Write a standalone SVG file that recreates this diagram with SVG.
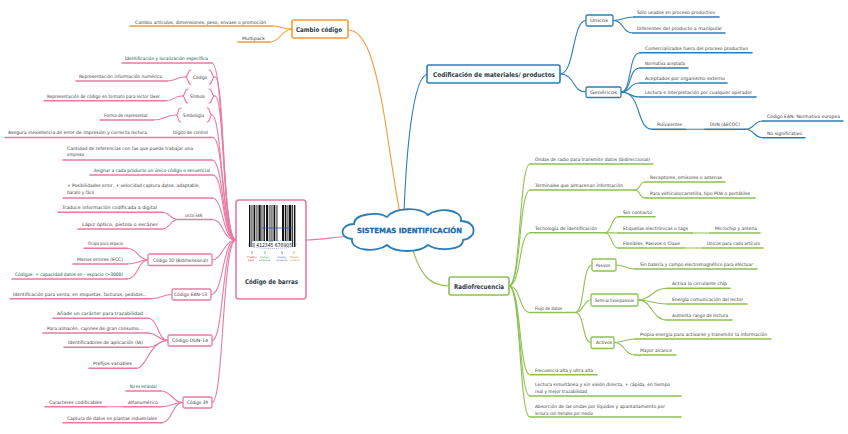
<svg xmlns="http://www.w3.org/2000/svg" width="848" height="434" viewBox="0 0 848 434">
<style>
.t{font-family:"DejaVu Sans","Liberation Sans",sans-serif;font-size:4.6px;fill:#3b3b3b}
.b{font-weight:bold;font-size:6.5px;fill:#2d3a44}
.c{stroke-width:1.1;fill:none;stroke-linecap:round}
.u{stroke-width:1.6;fill:none;stroke-linecap:round}
.o{stroke:#F29B38}.bl{stroke:#2C7DB5}.g{stroke:#8DC151}.p{stroke:#E77BA2}
.box{fill:#fff;stroke-width:1.6}
.mini{font-family:"DejaVu Sans","Liberation Sans",sans-serif;font-size:2.3px}
</style>
<rect width="848" height="434" fill="#fff"/>
<g id="connectors">
<path class="c o" d="M348,30 C365,30 375,60 385,120 C392,165 396,195 400,213"/>
<path class="c bl" d="M404,213 C406,160 412,75 428,74"/>
<path class="c g" d="M412,247 C420,275 430,286 449,286"/>
<path class="c p" d="M306,240 C320,240 335,237 350,236"/>
<path class="c o" d="M292,29 C282,29 281,26 272,26"/><path class="u o" d="M272,26 H130"/>
<path class="c o" d="M292,29 C282,29 280,42 270,42"/><path class="u o" d="M270,42 H238"/>
<path class="c bl" d="M560,74 C575,74 572,20.5 586,20.5"/>
<path class="c bl" d="M560,74 C575,74 572,92 586,92"/>
<path class="c bl" d="M613,20.5 C624,20.5 622,17 634,17"/><path class="u bl" d="M634,17 H719"/>
<path class="c bl" d="M613,20.5 C624,20.5 622,33 633,33"/><path class="u bl" d="M633,33 H725"/>
<path class="c bl" d="M621,92 C632,92 628,52.7 640,52.7"/><path class="u bl" d="M640,52.7 H752"/>
<path class="c bl" d="M621,92 C632,92 628,68 640,68"/><path class="u bl" d="M640,68 H688"/>
<path class="c bl" d="M621,92 C632,92 628,83 640,83"/><path class="u bl" d="M640,83 H727"/>
<path class="c bl" d="M621,92 C632,92 628,97 640,97"/><path class="u bl" d="M640,97 H756"/>
<path class="c bl" d="M621,92 C642,92 636,129.3 652,129.3"/><path class="u bl" d="M652,129.3 H685"/>
<path class="c bl" d="M685,129.3 H705"/><path class="u bl" d="M705,129.3 H745"/>
<path class="c bl" d="M745,129.3 C755,129.3 753,121 763,121"/><path class="u bl" d="M763,121 H843"/>
<path class="c bl" d="M745,129.3 C755,129.3 753,137.7 763,137.7"/><path class="u bl" d="M763,137.7 H805"/>
<path class="c g" d="M509,286 C521,286 519,164 530,164"/><path class="u g" d="M530,164 H653"/>
<path class="c g" d="M509,286 C521,286 519,190 530,190"/><path class="u g" d="M530,190 H634"/>
<path class="c g" d="M634,190 C641,190 639,182 645,182"/><path class="u g" d="M645,182 H725"/>
<path class="c g" d="M634,190 C641,190 639,198 645,198"/><path class="u g" d="M645,198 H755"/>
<path class="c g" d="M509,286 C521,286 519,232.7 530,232.7"/><path class="u g" d="M530,232.7 H605"/>
<path class="c g" d="M605,232.7 C612,232.7 611,216.7 618,216.7"/><path class="u g" d="M618,216.7 H655"/>
<path class="c g" d="M605,232.7 C612,232.7 611,233 618,233"/><path class="u g" d="M618,233 H692"/>
<path class="c g" d="M692,233 H710"/><path class="u g" d="M710,233 H760"/>
<path class="c g" d="M605,232.7 C612,232.7 611,248 618,248"/><path class="u g" d="M618,248 H684"/>
<path class="c g" d="M684,248 H703"/><path class="u g" d="M703,248 H763"/>
<path class="c g" d="M509,286 C521,286 519,312.5 530,312.5"/><path class="u g" d="M530,312.5 H575"/>
<path class="c g" d="M575,312.5 C585,312.5 582,265 592,265"/>
<path class="c g" d="M575,312.5 C584,312.5 583,300 591,300"/>
<path class="c g" d="M575,312.5 C585,312.5 582,342.5 591,342.5"/>
<path class="c g" d="M616,265 C626,265 625,269 635,269"/><path class="u g" d="M635,269 H757"/>
<path class="c g" d="M638,300 C652,300 652,288.3 667,288.3"/><path class="u g" d="M667,288.3 H730"/>
<path class="c g" d="M638,300 C652,300 652,304 667,304"/><path class="u g" d="M667,304 H747"/>
<path class="c g" d="M638,300 C652,300 652,320 667,320"/><path class="u g" d="M667,320 H732"/>
<path class="c g" d="M614,342.5 C625,342.5 624,339 635,339"/><path class="u g" d="M635,339 H771"/>
<path class="c g" d="M614,342.5 C625,342.5 624,355 635,355"/><path class="u g" d="M635,355 H676"/>
<path class="c g" d="M509,286 C521,286 519,374.7 530,374.7"/><path class="u g" d="M530,374.7 H597"/>
<path class="c g" d="M509,286 C521,286 519,396 530,396"/><path class="u g" d="M530,396 H681"/>
<path class="c g" d="M509,286 C521,286 519,417 530,417"/><path class="u g" d="M530,417 H681"/>
<path class="c p" d="M236,240 C222,240 224,63 212,63"/><path class="u p" d="M212,63 H122"/>
<path class="c p" d="M236,240 C222,240 225,77 215,77"/>
<path class="c p" d="M185,77 C176,77 176,81 167,81"/><path class="u p" d="M167,81 H76"/>
<path class="c p" d="M236,240 C222,240 225,96 215,96"/>
<path class="c p" d="M182,96 C174,96 174,100.7 166,100.7"/><path class="u p" d="M166,100.7 H44"/>
<path class="c p" d="M236,240 C222,240 222,115 212,115"/>
<path class="c p" d="M176,115 C166,115 164,120 153,120"/><path class="u p" d="M153,120 H100"/>
<path class="c p" d="M236,240 C222,240 224,137.5 213,137.5"/><path class="u p" d="M213,137.5 H5"/>
<path class="c p" d="M236,240 C222,240 224,160 212,160"/><path class="u p" d="M212,160 H63"/>
<path class="c p" d="M236,240 C222,240 224,175 213,175"/><path class="u p" d="M213,175 H90"/>
<path class="c p" d="M236,240 C222,240 224,198 212,198"/><path class="u p" d="M212,198 H63"/>
<path class="c p" d="M236,240 C222,240 224,219.5 212,219.5"/><path class="u p" d="M212,219.5 H178"/>
<path class="c p" d="M178,219.5 C170,219.5 170,212.3 162,212.3"/><path class="u p" d="M162,212.3 H58"/>
<path class="c p" d="M178,219.5 C170,219.5 170,229 162,229"/><path class="u p" d="M162,229 H78"/>
<path class="c p" d="M236,240 C224,240 222,260 212,260"/>
<path class="c p" d="M148,260 C138,260 138,248.3 127,248.3"/><path class="u p" d="M127,248.3 H84"/>
<path class="c p" d="M148,260 C138,260 138,264 127,264"/><path class="u p" d="M127,264 H73"/>
<path class="c p" d="M148,260 C138,260 138,279 127,279"/><path class="u p" d="M127,279 H12"/>
<path class="c p" d="M236,240 C222,240 224,294.5 211,294.5"/>
<path class="c p" d="M172,294.5 C162,294.5 162,298.7 152,298.7"/><path class="u p" d="M152,298.7 H10"/>
<path class="c p" d="M236,240 C222,240 224,340.5 212,340.5"/>
<path class="c p" d="M168,340.5 C158,340.5 158,318.3 148,318.3"/><path class="u p" d="M148,318.3 H53"/>
<path class="c p" d="M168,340.5 C158,340.5 158,333 148,333"/><path class="u p" d="M148,333 H43"/>
<path class="c p" d="M168,340.5 C158,340.5 158,347.3 148,347.3"/><path class="u p" d="M148,347.3 H64"/>
<path class="c p" d="M168,340.5 C150,340.5 146,368.3 137,368.3"/><path class="u p" d="M137,368.3 H89"/>
<path class="c p" d="M236,240 C222,240 224,402.5 212,402.5"/>
<path class="c p" d="M183,402.5 C172,402.5 172,391 161,391"/><path class="u p" d="M161,391 H126"/>
<path class="c p" d="M183,402.5 C172,402.5 172,406.7 162,406.7"/><path class="u p" d="M162,406.7 H124"/>
<path class="c p" d="M124,406.7 H106"/><path class="u p" d="M106,406.7 H45"/>
<path class="c p" d="M183,402.5 C172,402.5 172,422.7 162,422.7"/><path class="u p" d="M162,422.7 H63"/>
</g>
<g id="center">
<path d="M352,239 C338,238 340,224 354,224 C354,214 378,211 387,217 C395,207 420,207 428,215 C437,207 463,209 461,221 C477,221 478,238 463,240 C463,251 437,251 428,245 C419,253 395,253 387,245 C377,253 350,251 352,239 Z" fill="#fff" stroke="#2C7DB5" stroke-width="1.8"/>
<text class="t" x="357" y="233" textLength="105" lengthAdjust="spacingAndGlyphs" style="font-weight:bold;font-size:7px;fill:#1f6fb8;stroke:#0d4a86;stroke-width:0.25">SISTEMAS IDENTIFICACIÓN</text>
</g>
<g id="cambio-codigo">
<rect class="box o" x="292" y="20" width="56" height="18" rx="2"/>
<text class="t b" x="296" y="31.5" textLength="46" lengthAdjust="spacingAndGlyphs">Cambio código</text>
</g>
<g id="cambio-hijos">
<text class="t" x="135" y="23.5" textLength="131" lengthAdjust="spacingAndGlyphs">Cambio artículos, dimensiones, peso, envase o promoción</text>
<text class="t" x="242" y="39.5" textLength="23" lengthAdjust="spacingAndGlyphs">Multipack</text>
</g>
<g id="codificacion">
<rect class="box bl" x="427" y="65" width="133" height="18" rx="2"/>
<text class="t b" x="433" y="76.5" textLength="122" lengthAdjust="spacingAndGlyphs">Codificación de materiales/ productos</text>
</g>
<g id="unicos">
<rect class="box bl" x="586" y="15" width="27" height="11" rx="1.5" style="stroke-width:1.3"/>
<text class="t" x="590" y="22.2" textLength="18" lengthAdjust="spacingAndGlyphs">Únicos</text>
</g>
<g id="genericos">
<rect class="box bl" x="586" y="87" width="35" height="10.5" rx="1.5" style="stroke-width:1.3"/>
<text class="t" x="590" y="94" textLength="27" lengthAdjust="spacingAndGlyphs">Genéricos</text>
</g>
<g id="codificacion-hijos">
<text class="t" x="637" y="14" textLength="78" lengthAdjust="spacingAndGlyphs">Sólo usados en proceso productivo</text>
<text class="t" x="637" y="30" textLength="85" lengthAdjust="spacingAndGlyphs">Diferentes del producto a manipular</text>
<text class="t" x="645" y="49.7" textLength="103" lengthAdjust="spacingAndGlyphs">Comercializados fuera del proceso productivo</text>
<text class="t" x="645" y="65" textLength="40" lengthAdjust="spacingAndGlyphs">Normativa aceptada</text>
<text class="t" x="645" y="80" textLength="80" lengthAdjust="spacingAndGlyphs">Aceptados por organismo externo</text>
<text class="t" x="645" y="94" textLength="107" lengthAdjust="spacingAndGlyphs">Lectura e interpretación por cualquier operador</text>
<text class="t" x="657" y="126" textLength="25" lengthAdjust="spacingAndGlyphs">Polivalentes</text>
<text class="t" x="710" y="126" textLength="30" lengthAdjust="spacingAndGlyphs">DUN (AECOC)</text>
<text class="t" x="767" y="118" textLength="73" lengthAdjust="spacingAndGlyphs">Código EAN: Normativa europea</text>
<text class="t" x="767" y="134.5" textLength="35" lengthAdjust="spacingAndGlyphs">No significativo</text>
</g>
<g id="radiofrecuencia">
<rect class="box g" x="449" y="277" width="60" height="18" rx="2"/>
<text class="t b" x="454" y="288.5" textLength="50" lengthAdjust="spacingAndGlyphs">Radiofrecuencia</text>
</g>
<g id="pasivos">
<rect class="box g" x="592" y="259" width="24" height="12" rx="1.5" style="stroke-width:1.3"/>
<text class="t" x="596" y="266.6" textLength="14" lengthAdjust="spacingAndGlyphs">Pasivos</text>
</g>
<g id="semiactivos">
<rect class="box g" x="591" y="294" width="47" height="12" rx="1.5" style="stroke-width:1.3"/>
<text class="t" x="595" y="301.6" textLength="39" lengthAdjust="spacingAndGlyphs">Semi-activos/pasivos</text>
</g>
<g id="activos">
<rect class="box g" x="591" y="337" width="23" height="11.5" rx="1.5" style="stroke-width:1.3"/>
<text class="t" x="596" y="344.3" textLength="16" lengthAdjust="spacingAndGlyphs">Activos</text>
</g>
<g id="radio-hijos">
<text class="t" x="535" y="161" textLength="115" lengthAdjust="spacingAndGlyphs">Ondas de radio para transmitir datos (bidireccional)</text>
<text class="t" x="535" y="187" textLength="88" lengthAdjust="spacingAndGlyphs">Terminales que almacenan información</text>
<text class="t" x="650" y="179" textLength="72" lengthAdjust="spacingAndGlyphs">Receptores, emisores o antenas</text>
<text class="t" x="650" y="195" textLength="100" lengthAdjust="spacingAndGlyphs">Para vehículo/carretilla, tipo PDA o portátiles</text>
<text class="t" x="535" y="229.5" textLength="62" lengthAdjust="spacingAndGlyphs">Tecnología de identificación</text>
<text class="t" x="623" y="213.5" textLength="29" lengthAdjust="spacingAndGlyphs">Sin contacto</text>
<text class="t" x="623" y="230" textLength="65" lengthAdjust="spacingAndGlyphs">Etiquetas electrónicas o tags</text>
<text class="t" x="715" y="230" textLength="42" lengthAdjust="spacingAndGlyphs">Microchip y antena</text>
<text class="t" x="623" y="245" textLength="57" lengthAdjust="spacingAndGlyphs">Flexibles, Pasivos o Clave</text>
<text class="t" x="707" y="245" textLength="53" lengthAdjust="spacingAndGlyphs">Únicos para cada artículo</text>
<text class="t" x="535" y="309.5" textLength="27" lengthAdjust="spacingAndGlyphs">Flujo de datos</text>
<text class="t" x="640" y="266" textLength="113" lengthAdjust="spacingAndGlyphs">Sin batería y campo electromagnético para efectuar</text>
<text class="t" x="672" y="285.3" textLength="55" lengthAdjust="spacingAndGlyphs">Activa la circulante chip</text>
<text class="t" x="672" y="301" textLength="71" lengthAdjust="spacingAndGlyphs">Energía comunicación del lector</text>
<text class="t" x="672" y="317" textLength="56" lengthAdjust="spacingAndGlyphs">Aumenta rango de lectura</text>
<text class="t" x="640" y="336" textLength="127" lengthAdjust="spacingAndGlyphs">Propia energía para activarse y transmitir la información</text>
<text class="t" x="640" y="352" textLength="32" lengthAdjust="spacingAndGlyphs">Mayor alcance</text>
<text class="t" x="535" y="371.5" textLength="58" lengthAdjust="spacingAndGlyphs">Frecuencia alta y ultra alta</text>
<text class="t" x="535" y="386" textLength="135" lengthAdjust="spacingAndGlyphs">Lectura simultánea y sin visión directa, + rápida, en tiempo</text>
<text class="t" x="535" y="392.5" textLength="52" lengthAdjust="spacingAndGlyphs">real y mejor trazabilidad</text>
<text class="t" x="535" y="408" textLength="130" lengthAdjust="spacingAndGlyphs">Absorción de las ondas por líquidos y apantallamiento por</text>
<text class="t" x="535" y="414.5" textLength="58" lengthAdjust="spacingAndGlyphs">lectura con metales por medio</text>
</g>
<g id="codigo-barras">
<rect class="box p" x="236" y="200" width="70" height="99" rx="3"/>
<g fill="#111">
<rect x="249" y="205" width="1.4" height="42"/><rect x="251.5" y="205" width="0.9" height="42"/>
<rect x="253.5" y="205" width="1.8" height="36"/><rect x="256.5" y="205" width="0.9" height="36"/>
<rect x="258.5" y="205" width="2.2" height="36"/><rect x="261.5" y="205" width="0.9" height="36"/>
<rect x="263.5" y="205" width="1.4" height="36"/><rect x="266" y="205" width="2.2" height="36"/>
<rect x="269.5" y="205" width="0.9" height="42"/><rect x="271.5" y="205" width="0.9" height="42"/>
<rect x="273.5" y="205" width="1.8" height="36"/><rect x="276.5" y="205" width="0.9" height="36"/>
<rect x="282" y="205" width="2.2" height="36"/><rect x="285" y="205" width="1.4" height="36"/>
<rect x="287.5" y="205" width="0.9" height="36"/><rect x="289" y="205" width="2.4" height="36"/>
<rect x="292.2" y="205" width="0.9" height="42"/><rect x="294" y="205" width="1.4" height="42"/>
</g>
<path d="M262,228 H292" stroke="#2a4fd0" stroke-width="0.8"/>
<ellipse cx="272" cy="244.5" rx="24" ry="4" fill="none" stroke="#2a4fd0" stroke-width="0.5" stroke-dasharray="1,1"/>
<rect x="252" y="241.5" width="40" height="5.5" fill="#fff"/>
<text class="t" x="252" y="246.5" textLength="40" lengthAdjust="spacingAndGlyphs" style="font-size:5.5px;fill:#111">8 412345 678905</text>
<path d="M252,251 v3" stroke="#d33" stroke-width="0.6"/><path d="M265,251 v3" stroke="#2a9d4a" stroke-width="0.6"/>
<path d="M282,251 v3" stroke="#2a4fd0" stroke-width="0.6"/><path d="M294,251 v3" stroke="#e08a20" stroke-width="0.6"/>
<text class="mini" fill="#d33"><tspan x="247" y="258" textLength="10" lengthAdjust="spacingAndGlyphs">Prefijo</tspan><tspan x="248" y="261" textLength="6" lengthAdjust="spacingAndGlyphs">país</tspan></text>
<text class="mini" fill="#2a9d4a"><tspan x="260" y="258" textLength="9" lengthAdjust="spacingAndGlyphs">Código</tspan><tspan x="259" y="261" textLength="11" lengthAdjust="spacingAndGlyphs">empresa</tspan></text>
<text class="mini" fill="#2a4fd0"><tspan x="277.5" y="258" textLength="9" lengthAdjust="spacingAndGlyphs">Código</tspan><tspan x="276.5" y="261" textLength="11" lengthAdjust="spacingAndGlyphs">producto</tspan></text>
<text class="mini" fill="#e08a20"><tspan x="290" y="258" textLength="9" lengthAdjust="spacingAndGlyphs">Dígito</tspan><tspan x="289.5" y="261" textLength="10" lengthAdjust="spacingAndGlyphs">control</tspan></text>
<text class="t" x="245" y="284" textLength="53" lengthAdjust="spacingAndGlyphs" style="font-weight:bold;font-size:6.5px;fill:#2d3a44">Código de barras</text>
</g>
<g id="codigo-brace">
<path class="c p" d="M191,70 C187,70 189,77 185,77 C189,77 187,84 191,84"/>
<path class="c p" d="M209,70 C213,70 211,77 215,77 C211,77 213,84 209,84"/>
<text class="t" x="193" y="78.5" textLength="14" lengthAdjust="spacingAndGlyphs">Código</text>
</g>
<g id="simbolo">
<path class="c p" d="M188,89 C184,89 186,96 182,96 C186,96 184,103 188,103"/>
<path class="c p" d="M209,89 C213,89 211,96 215,96 C211,96 213,103 209,103"/>
<text class="t" x="190" y="97.6" textLength="15" lengthAdjust="spacingAndGlyphs">Símbolo</text>
</g>
<g id="simbologia">
<path class="c p" d="M181,108 C177,108 179,115 176,115 C179,115 177,122 181,122"/>
<path class="c p" d="M207,108 C211,108 209,115 212,115 C209,115 211,122 207,122"/>
<text class="t" x="183" y="116.6" textLength="21" lengthAdjust="spacingAndGlyphs">Simbología</text>
</g>
<g id="codigo-2d">
<rect class="box p" x="148" y="254" width="64" height="11.5" rx="1.5" style="stroke-width:1.3"/>
<text class="t" x="153" y="261.6" textLength="55" lengthAdjust="spacingAndGlyphs">Código 2D (Bidimensional)</text>
</g>
<g id="codigo-ean13">
<rect class="box p" x="172" y="289" width="39" height="11" rx="1.5" style="stroke-width:1.3"/>
<text class="t" x="174" y="296.2" textLength="33" lengthAdjust="spacingAndGlyphs">Código EAN-13</text>
</g>
<g id="codigo-dun14">
<rect class="box p" x="168" y="335" width="44" height="11" rx="1.5" style="stroke-width:1.3"/>
<text class="t" x="172" y="342.2" textLength="36" lengthAdjust="spacingAndGlyphs">Código DUN-14</text>
</g>
<g id="codigo-39">
<rect class="box p" x="183" y="397" width="29" height="11" rx="1.5" style="stroke-width:1.3"/>
<text class="t" x="187" y="404.2" textLength="21" lengthAdjust="spacingAndGlyphs">Código 39</text>
</g>
<g id="barras-hijos">
<text class="t" x="125" y="60" textLength="83" lengthAdjust="spacingAndGlyphs">Identificación y localización específica</text>
<text class="t" x="79" y="78" textLength="83" lengthAdjust="spacingAndGlyphs">Representación información numérica</text>
<text class="t" x="47" y="97.6" textLength="113" lengthAdjust="spacingAndGlyphs">Representación de código en formato para lector láser</text>
<text class="t" x="104" y="116.6" textLength="44" lengthAdjust="spacingAndGlyphs">Forma de representar</text>
<text class="t" x="8" y="134.3" textLength="139" lengthAdjust="spacingAndGlyphs">Asegura inexistencia de error de impresión y correcta lectura</text>
<text class="t" x="173" y="134.3" textLength="35" lengthAdjust="spacingAndGlyphs">Dígito de control</text>
<text class="t" x="67" y="149.5" textLength="126" lengthAdjust="spacingAndGlyphs">Cantidad de referencias con las que puede trabajar una</text>
<text class="t" x="67" y="155.5" textLength="17" lengthAdjust="spacingAndGlyphs">empresa</text>
<text class="t" x="94" y="171.8" textLength="116" lengthAdjust="spacingAndGlyphs">Asignar a cada producto un único código o secuencial</text>
<text class="t" x="67" y="187" textLength="133" lengthAdjust="spacingAndGlyphs">+ Posibilidades error, + velocidad captura datos, adaptable,</text>
<text class="t" x="67" y="193.5" textLength="27" lengthAdjust="spacingAndGlyphs">barato y fácil</text>
<text class="t" x="185" y="216.6" textLength="17" lengthAdjust="spacingAndGlyphs">Lector EAN</text>
<text class="t" x="62" y="209" textLength="95" lengthAdjust="spacingAndGlyphs">Traduce información codificada a digital</text>
<text class="t" x="82" y="226" textLength="76" lengthAdjust="spacingAndGlyphs">Lápiz óptico, pistola o escáner</text>
<text class="t" x="88" y="245" textLength="35" lengthAdjust="spacingAndGlyphs">Ocupa poco espacio</text>
<text class="t" x="77" y="260.6" textLength="46" lengthAdjust="spacingAndGlyphs">Menos errores (ECC)</text>
<text class="t" x="15" y="275.6" textLength="108" lengthAdjust="spacingAndGlyphs">Códigos: + capacidad datos en - espacio (&gt;3000)</text>
<text class="t" x="13" y="295.8" textLength="134" lengthAdjust="spacingAndGlyphs">Identificación para venta, en etiquetas, facturas, pedidos...</text>
<text class="t" x="57" y="315" textLength="86" lengthAdjust="spacingAndGlyphs">Añade un carácter para trazabilidad</text>
<text class="t" x="47" y="330" textLength="96" lengthAdjust="spacingAndGlyphs">Para almacén, cajones de gran consumo...</text>
<text class="t" x="68" y="344.3" textLength="75" lengthAdjust="spacingAndGlyphs">Identificadores de aplicación (IA)</text>
<text class="t" x="93" y="365" textLength="39" lengthAdjust="spacingAndGlyphs">Prefijos variables</text>
<text class="t" x="130" y="388" textLength="27" lengthAdjust="spacingAndGlyphs">No es estándar</text>
<text class="t" x="128" y="403.7" textLength="30" lengthAdjust="spacingAndGlyphs">Alfanumérico</text>
<text class="t" x="49" y="403.7" textLength="53" lengthAdjust="spacingAndGlyphs">Caracteres codificables</text>
<text class="t" x="67" y="419.7" textLength="90" lengthAdjust="spacingAndGlyphs">Captura de datos en plantas industriales</text>
</g>
</svg>
